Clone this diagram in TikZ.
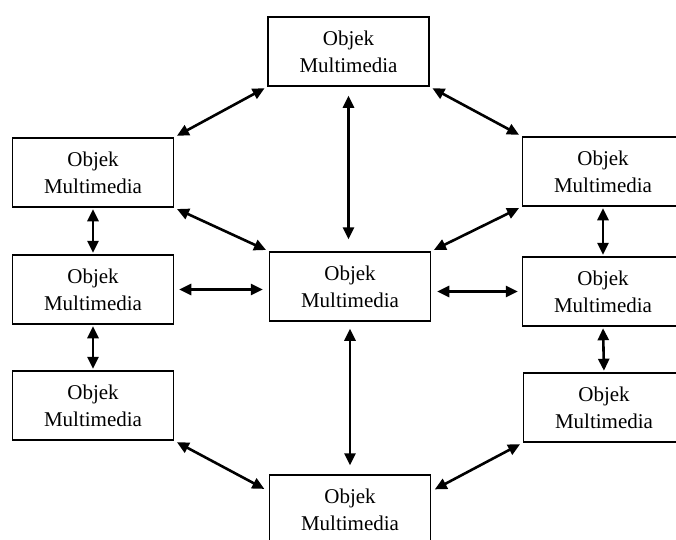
\documentclass[tikz,border=0pt]{standalone}
\usepackage{fontspec}
\setmainfont{Liberation Serif}
\usetikzlibrary{arrows.meta}
\begin{document}
\begin{tikzpicture}[x=1pt,y=-1pt,
  obj/.style={draw, line width=1.5pt, rectangle, minimum width=161pt, minimum height=69pt,
    align=center, inner sep=0pt, font=\fontsize{21}{27}\selectfont},
  biarr/.style={line width=2.6pt, {Triangle[length=12pt,width=11pt]}-{Triangle[length=12pt,width=11pt]}}]
  \useasboundingbox (0,0) rectangle (676,539);
  \clip (0,0) rectangle (676,539);
  % boxes
  \node[obj] (top) at (348.5,51.5) {Objek\\Multimedia};
  \node[obj] (lu)  at (93,172.5)   {Objek\\Multimedia};
  \node[obj] (lm)  at (93,289.5)   {Objek\\Multimedia};
  \node[obj] (ll)  at (93,405.5)   {Objek\\Multimedia};
  \node[obj] (c)   at (350,286.5)  {Objek\\Multimedia};
  \node[obj] (ru)  at (603,171.5)  {Objek\\Multimedia};
  \node[obj] (rm)  at (603,291.5)  {Objek\\Multimedia};
  \node[obj] (rl)  at (604,407.5)  {Objek\\Multimedia};
  \node[obj] (bot) at (350,509.5)  {Objek\\Multimedia};
  % connectors
  \draw[biarr, shorten <=3pt, shorten >=3pt] (top.south west) -- (lu.north east);
  \draw[biarr, shorten <=3pt, shorten >=3pt] (top.south east) -- (ru.north west);
  \draw[biarr, shorten <=9pt, shorten >=12pt] (top.south) -- (top.south |- c.north);
  \draw[biarr, shorten <=3pt, shorten >=3pt] (lu.south east) -- (c.north west);
  \draw[biarr, shorten <=3pt, shorten >=3pt] (ru.south west) -- (c.north east);
  \draw[biarr, shorten <=5pt, shorten >=6pt] (lm.east) -- (lm.east -| c.west);
  \draw[biarr, shorten <=6pt, shorten >=4pt] (rm.west -| c.east) -- (rm.west);
  \draw[biarr, shorten <=1.5pt, shorten >=1.5pt] (lu.south) -- (lm.north);
  \draw[biarr, shorten <=1.5pt, shorten >=1.5pt] (lm.south) -- (ll.north);
  \draw[biarr, shorten <=1.5pt, shorten >=1.5pt] (ru.south) -- (rm.north);
  \draw[biarr, shorten <=1.5pt, shorten >=1.5pt] (rm.south) -- (rl.north);
  \draw[biarr, shorten <=7pt, shorten >=9pt] (c.south) -- (c.south |- bot.north);
  \draw[biarr, shorten <=3pt, shorten >=5pt] (ll.south east) -- ([yshift=-17pt]bot.north west);
  \draw[biarr, shorten <=3pt, shorten >=4pt] (rl.south west) -- ([yshift=-17pt]bot.north east);
\end{tikzpicture}
\end{document}
